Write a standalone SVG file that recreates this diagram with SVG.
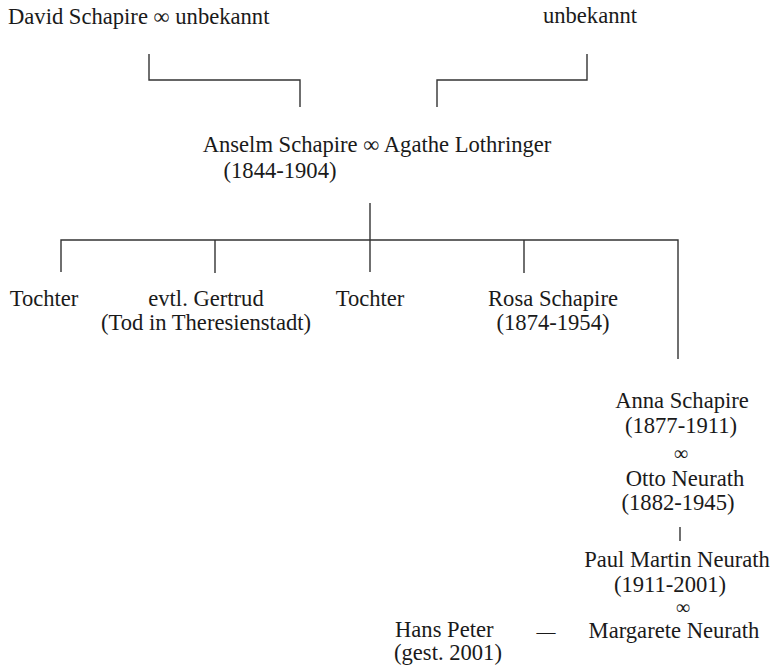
<svg xmlns="http://www.w3.org/2000/svg" width="779" height="669" viewBox="0 0 779 669">
<style>
text{font-family:"Liberation Serif","Times New Roman",serif;font-size:22.6px;fill:#1a1a1a}
.m{text-anchor:middle}
.inf{font-size:20px}
.c line,.c polyline{stroke:#333;stroke-width:1.4;fill:none}
</style>
<rect width="779" height="669" fill="#fff"/>
<g class="c" id="connectors">
<polyline points="149,54 149,80 300,80 300,107"/>
<polyline points="587,54 587,80 437,80 437,107"/>
<line x1="370" y1="203" x2="370" y2="272"/>
<polyline points="61,272 61,240 678,240 678,359"/>
<line x1="215" y1="240" x2="215" y2="273"/>
<line x1="524" y1="240" x2="524" y2="273"/>
<line x1="680" y1="527" x2="680" y2="541"/>
</g>
<g id="david"><text x="8" y="24">David Schapire ∞ unbekannt</text></g>
<g id="unbekannt"><text class="m" x="590" y="23">unbekannt</text></g>
<g id="anselm"><text class="m" x="377" y="152">Anselm Schapire ∞ Agathe Lothringer</text>
<text class="m" x="280" y="178">(1844-1904)</text></g>
<g id="tochter1"><text class="m" x="44" y="306">Tochter</text></g>
<g id="gertrud"><text class="m" x="206" y="306">evtl. Gertrud</text>
<text class="m" x="206" y="330">(Tod in Theresienstadt)</text></g>
<g id="tochter2"><text class="m" x="370" y="306">Tochter</text></g>
<g id="rosa"><text class="m" x="553" y="306">Rosa Schapire</text>
<text class="m" x="553" y="330">(1874-1954)</text></g>
<g id="anna"><text class="m" x="682" y="408">Anna Schapire</text>
<text class="m" x="681" y="433">(1877-1911)</text>
<text class="m inf" x="681" y="460">∞</text></g>
<g id="otto"><text class="m" x="685" y="486">Otto Neurath</text>
<text class="m" x="678" y="510">(1882-1945)</text></g>
<g id="paul"><text class="m" x="677" y="567">Paul Martin Neurath</text>
<text class="m" x="670" y="592">(1911-2001)</text>
<text class="m inf" x="683" y="614">∞</text></g>
<g id="margarete"><text class="m" x="674" y="638">Margarete Neurath</text></g>
<g id="hans"><text x="395" y="637">Hans Peter</text>
<text x="394" y="660">(gest. 2001)</text>
<text class="m" x="546" y="638" style="font-size:19px">—</text></g>
</svg>
